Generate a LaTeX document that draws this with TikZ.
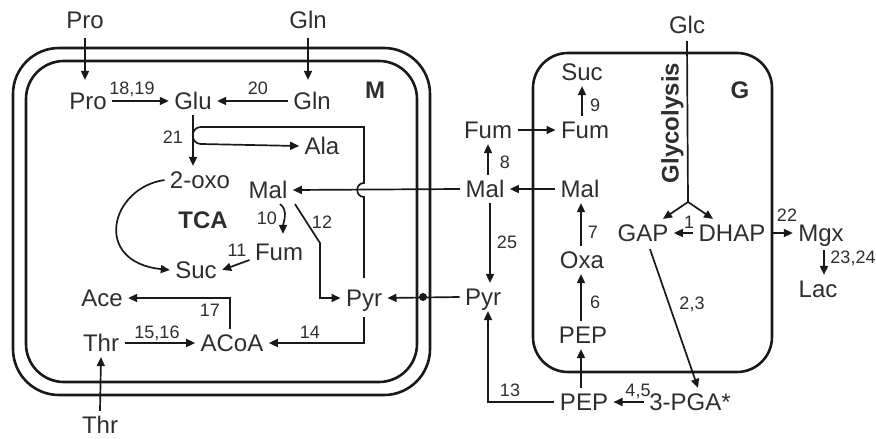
\documentclass[tikz,border=0pt]{standalone}
\usepackage{fontspec}
\setmainfont{Liberation Sans}
\usetikzlibrary{arrows.meta}
\definecolor{ink}{gray}{0.1}
\definecolor{txt}{gray}{0.18}
\begin{document}
\begin{tikzpicture}[x=1pt,y=-1pt,
 met/.style={font=\fontsize{24}{28}\selectfont, text=txt, inner sep=3pt, outer sep=2.5pt, text height=17.2pt, text depth=0pt},
 num/.style={font=\fontsize{18}{21}\selectfont, text=txt, inner sep=0pt, text height=12.9pt, text depth=0pt},
 bld/.style={font=\fontsize{24}{28}\selectfont\bfseries, text=txt, inner sep=0pt, text height=17.2pt, text depth=0pt},
 arr/.style={draw=ink, line width=1.7pt, -{Triangle[length=9pt,width=8pt]}},
 ln/.style={draw=ink, line width=1.7pt},
 wall/.style={draw=ink, line width=2.6pt},
 dotn/.style={circle, fill=ink, inner sep=0pt, minimum size=8pt}]
\useasboundingbox (0,0) rectangle (876,439);
% compartments
\draw[wall, rounded corners=46pt] (13,48) rectangle (430,395);
\draw[wall, rounded corners=38pt] (26,61) rectangle (417,382);
\draw[wall, rounded corners=35pt] (533,53) rectangle (772,372);
% M compartment nodes
\node[met] (proT) at (85,20) {Pro};
\node[met] (glnT) at (308,20) {Gln};
\node[met] (pro) at (88,101) {Pro};
\node[met] (glu) at (193,101) {Glu};
\node[met] (gln) at (312,101) {Gln};
\node[bld] (mlab) at (375,90) {M};
\node[met] (ala) at (322,146) {Ala};
\node[met] (oxo) at (200,180) {2-oxo};
\node[met] (malM) at (268,190) {Mal};
\node[bld] (tca) at (203,220) {TCA};
\node[met] (fumM) at (279,252) {Fum};
\node[met] (suc) at (196,270) {Suc};
\node[met] (ace) at (102,298) {Ace};
\node[met] (pyrM) at (364,298) {Pyr};
\node[met] (thr) at (101,343) {Thr};
\node[met] (acoa) at (232,343) {ACoA};
\node[met] (thrB) at (100,425) {Thr};
% outside / G nodes
\node[met] (glc) at (687,25) {Glc};
\node[met] (sucG) at (582,72) {Suc};
\node[bld] (glab) at (740,90) {G};
\node[met] (fumO) at (488,130) {Fum};
\node[met] (fumG) at (585,130) {Fum};
\node[met] (malO) at (485,189) {Mal};
\node[met] (malG) at (580,189) {Mal};
\node[met] (gap) at (643,233) {GAP};
\node[met] (dhap) at (732,233) {DHAP};
\node[met] (mgx) at (821,233) {Mgx};
\node[met] (lac) at (818,289) {Lac};
\node[met] (oxa) at (582,260) {Oxa};
\node[met] (pyrO) at (483,297) {Pyr};
\node[met] (pepG) at (583,335) {PEP};
\node[met] (pep) at (584,402) {PEP};
\node[met] (pga) at (690,402) {3-PGA*};
\node[bld, rotate=90] (glyco) at (670,123) {Glycolysis};
% coordinates
\coordinate (h1) at (364,197);
\coordinate (h2) at (364,183);
\coordinate (c1) at (364,127);
\coordinate (c2) at (201,127);
\coordinate (c3) at (201,144);
\coordinate (b12) at (320,243);
\coordinate (fork) at (688,202);
% M arrows
\draw[arr] ([yshift=-4]proT.south) -- ([yshift=7]proT.south |- pro.north);
\draw[arr] ([yshift=-4]glnT.south) -- ([yshift=7]glnT.south |- gln.north);
\draw[arr] (pro.east) -- (glu.west);
\draw[arr] (gln.west) -- (glu.east);
\draw[arr] (glu.south) -- (glu.south |- oxo.north);
\draw[arr] ([yshift=6]pyrM.north) -- (h1) .. controls +(-9,0) and +(-9,0) .. (h2) -- (c1) -- (c2) .. controls +(-11,0) and +(-11,0) .. (c3) -- (ala.west);
\draw[arr] (malO.west) -- (malM.east);
\draw[arr] (oxo.west) .. controls (110,188) and (92,262) .. (suc.west);
\draw[arr] ([xshift=12]malM.south) .. controls +(9,6) and +(0,-10) .. ([xshift=4,yshift=4]fumM.north);
\draw[arr] ([xshift=27]malM.south) -- (b12) -- (b12 |- pyrM.west) -- (pyrM.west);
\draw[arr] ([yshift=-8]fumM.west) -- (suc.east);
\draw[arr] ([yshift=-5]pyrM.south) |- (acoa.east);
\draw[arr] ([xshift=-2]acoa.north) |- (ace.east);
\draw[arr] (thr.east) -- (acoa.west);
\draw[arr] (thrB.north) -- (thr.south);
\draw[arr] (pyrO.west) -- (pyrM.east);
\node[dotn] (dot) at (423,297) {};
% right side arrows
\draw[ln] ([yshift=-2]glc.south) -- (fork);
\draw[arr] (fork) -- ([xshift=20]gap.north);
\draw[arr] (fork) -- ([xshift=-19]dhap.north);
\draw[arr] (dhap.west) -- (gap.east);
\draw[arr] (dhap.east) -- (mgx.west);
\draw[arr] ([xshift=3,yshift=-3]mgx.south) -- ([xshift=3]mgx.south |- lac.north);
\draw[arr] ([xshift=7,yshift=-2]gap.south) -- ([xshift=8]pga.north);
\draw[arr] (pga.west) -- (pep.east);
\draw[arr] ([xshift=-3]pep.north) -- ([xshift=-3]pep.north |- pepG.south);
\draw[arr] ([xshift=-2]pepG.north) -- ([xshift=-2]pepG.north |- oxa.south);
\draw[arr] ([xshift=-1]oxa.north) -- ([xshift=-1]oxa.north |- malG.south);
\draw[arr] (malG.west) -- (malO.east);
\draw[arr] ([xshift=3]malO.north) -- ([xshift=3]malO.north |- fumO.south);
\draw[arr] (fumO.east) -- (fumG.west);
\draw[arr] (sucG.south |- fumG.north) -- (sucG.south);
\draw[arr] ([xshift=5]malO.south) -- ([xshift=5]malO.south |- pyrO.north);
\draw[arr] (pep.west) -| ([xshift=5]pyrO.south);
% reaction numbers
\node[num] (n1819) at (132,88) {18,19};
\node[num] (n20) at (258,88) {20};
\node[num] (n21) at (173,137) {21};
\node[num] (n10) at (267,218) {10};
\node[num] (n12) at (322,222) {12};
\node[num] (n11) at (237,250) {11};
\node[num] (n17) at (210,310) {17};
\node[num] (n1516) at (157,332) {15,16};
\node[num] (n14) at (310,332) {14};
\node[num] (n25) at (507,242) {25};
\node[num] (n8) at (505,162) {8};
\node[num] (n9) at (595,105) {9};
\node[num] (n7) at (593,232) {7};
\node[num] (n6) at (595,302) {6};
\node[num] (n1) at (689,222) {1};
\node[num] (n22) at (787,215) {22};
\node[num] (n2324) at (853,257) {23,24};
\node[num] (n23) at (692,303) {2,3};
\node[num] (n45) at (638,390) {4,5};
\node[num] (n13) at (510,390) {13};
\end{tikzpicture}
\end{document}
